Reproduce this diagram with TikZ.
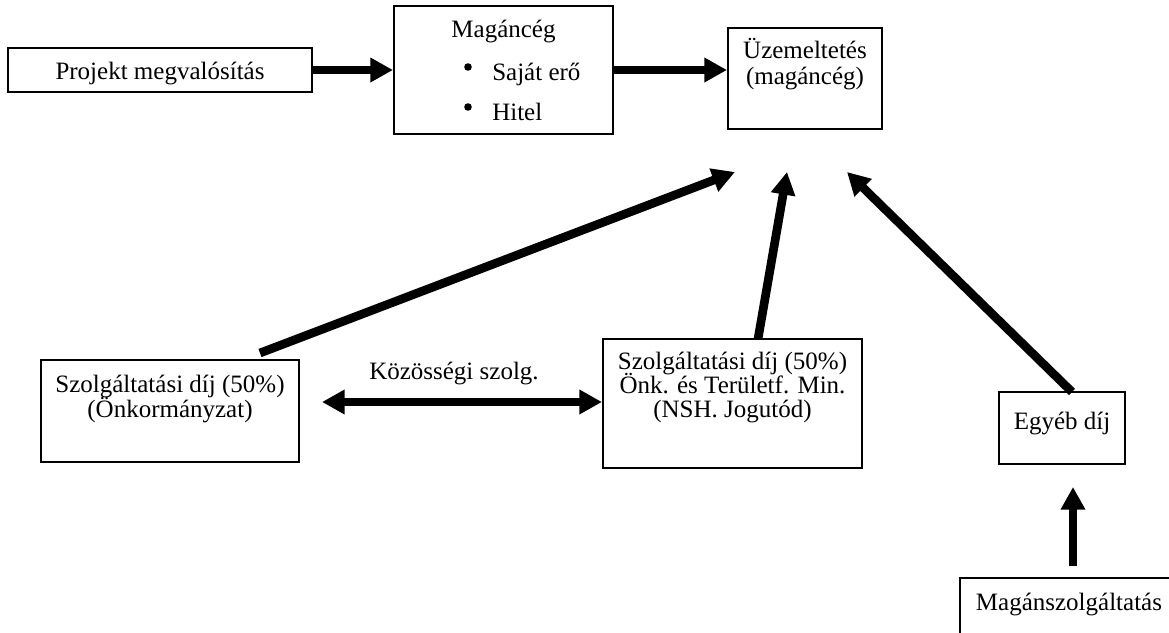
\documentclass[tikz,border=0pt]{standalone}
\usepackage{fontspec}
\setmainfont{Liberation Serif}
\usetikzlibrary{arrows.meta,calc}
\begin{document}
\begin{tikzpicture}[x=0.75pt,y=-0.75pt,
  font=\fontsize{18.75pt}{22pt}\selectfont,
  box/.style={draw,line width=1.5pt,inner sep=0pt,rectangle},
  txt/.style={inner sep=0pt,anchor=base},
  arr/.style={line width=6.5pt,-{Triangle[length=17pt,width=17.5pt]}},
  darr/.style={line width=6.5pt,{Triangle[length=17pt,width=17.5pt]}-{Triangle[length=17pt,width=17.5pt]}}]
\useasboundingbox (0,0) rectangle (1169,632);
\fill[white] (0,0) rectangle (1169,632);
% boxes
\node[box,minimum width=228pt,minimum height=33pt] (proj) at (160,70) {};
\node[box,minimum width=164.25pt,minimum height=96pt] (mag) at (503.5,70) {};
\node[box,minimum width=115.5pt,minimum height=75.75pt] (uzem) at (805,78.5) {};
\node[box,minimum width=193.5pt,minimum height=76.5pt] (left) at (170,411) {};
\node[box,minimum width=194.25pt,minimum height=96.75pt] (mid) at (732.5,403.5) {};
\node[box,minimum width=94.5pt,minimum height=54pt] (egy) at (1062,428) {};
\node[box,minimum width=165pt,minimum height=54pt] (msz) at (1070,614) {};
% texts
\node[txt] (tproj) at (160,79) {Projekt megvalósítás};
\node[txt] (tmag) at (503.5,37) {Magáncég};
\fill (468,67) circle (3.8);
\fill (468,107) circle (3.8);
\node[txt,anchor=base west] (tsaj) at (492,80) {Saját erő};
\node[txt,anchor=base west] (thit) at (492,120) {Hitel};
\node[txt] (tuz1) at (805,58) {Üzemeltetés};
\node[txt] (tuz2) at (805,84) {(magáncég)};
\node[txt] (tl1) at (170,392) {Szolgáltatási díj (50\%)};
\node[txt] (tl2) at (170,417) {(Önkormányzat)};
\node[txt] (tm1) at (732.5,369) {Szolgáltatási díj (50\%)};
\node[txt] (tm2) at (732.5,393) {Önk. és Területf. Min.};
\node[txt] (tm3) at (732.5,417) {(NSH. Jogutód)};
\node[txt] (tegy) at (1062,429) {Egyéb díj};
\node[txt] (tmsz) at (1069,610) {Magánszolgáltatás};
\node[txt] (tkoz) at (454,379) {Közösségi szolg.};
% free ends
\coordinate (s1) at (260,353);
\coordinate (t1) at (735,172);
\coordinate (s2) at (758,339);
\coordinate (t2) at (787,172);
\coordinate (s3) at (1072,392);
\coordinate (t3) at (847,172);
\coordinate (d1) at (322,402);
\coordinate (m1) at (1073,566);
\coordinate (m2) at (1073,487);
% connectors
\draw[arr] (proj.east) -- (mag.west);
\draw[arr] (mag.east) -- (mag.east -| uzem.west);
\draw[arr] (s1) -- (t1);
\draw[arr] (s2) -- (t2);
\draw[arr] (s3) -- (t3);
\draw[darr] (d1) -- (d1 -| mid.west);
\draw[arr] (m1) -- (m2);
\end{tikzpicture}
\end{document}
